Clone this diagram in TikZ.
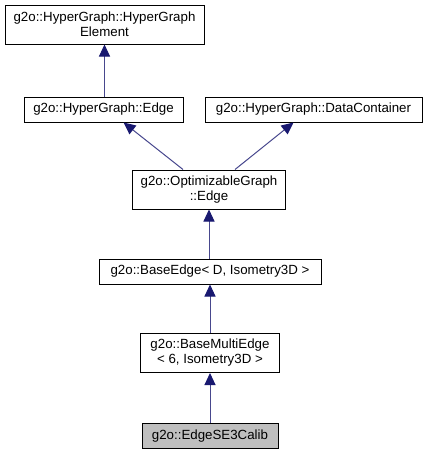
\documentclass[tikz,border=0pt]{standalone}
\usepackage{fontspec}
\setmainfont{Liberation Sans}
\usetikzlibrary{positioning, arrows.meta}

\definecolor{edgeblue}{HTML}{191970}

\begin{document}
\begin{tikzpicture}[
    x=1pt, y=-1pt,
    cls/.style={rectangle, draw=black, line width=1pt, inner sep=0pt, align=center,
                font=\fontsize{13.3}{15}\selectfont},
    one/.style={cls, minimum height=25pt},
    two/.style={cls, minimum height=39pt},
    inh/.style={{Triangle[length=12pt, width=11pt, color=edgeblue, fill=edgeblue]}-,
                line width=1pt, edgeblue!80!white},
]
\useasboundingbox (0,0) rectangle (427,455);

% bases
\node[two, minimum width=199pt] (elem) at (104.5,24.5) {g2o::HyperGraph::HyperGraph\\Element};
\node[one, minimum width=159pt] (hgedge) at (103.5,109.5) {g2o::HyperGraph::Edge};
\node[one, minimum width=217pt] (datac) at (313.5,109.5) {g2o::HyperGraph::DataContainer};

% chain
\node[two, minimum width=153pt] (optedge) at (209,189.5) {g2o::OptimizableGraph\\::Edge};
\node[one, minimum width=222pt] (baseedge) at (210,271.5) {g2o::BaseEdge< D, Isometry3D >};
\node[two, minimum width=139pt] (multiedge) at (210,353) {g2o::BaseMultiEdge\\< 6, Isometry3D >};
\node[one, minimum width=136pt, fill=black!25] (calib) at (210,436) {g2o::EdgeSE3Calib};

% inheritance
\draw[inh] (elem.south) -- (hgedge.north -| elem.south);
\draw[inh] ([xshift=20pt]hgedge.south) -- ([xshift=-26pt]optedge.north);
\draw[inh] ([xshift=-20pt]datac.south) -- ([xshift=26pt]optedge.north);
\draw[inh] (optedge.south) -- (baseedge.north -| optedge.south);
\draw[inh] (baseedge.south) -- (multiedge.north);
\draw[inh] (multiedge.south) -- (calib.north);

\end{tikzpicture}
\end{document}
